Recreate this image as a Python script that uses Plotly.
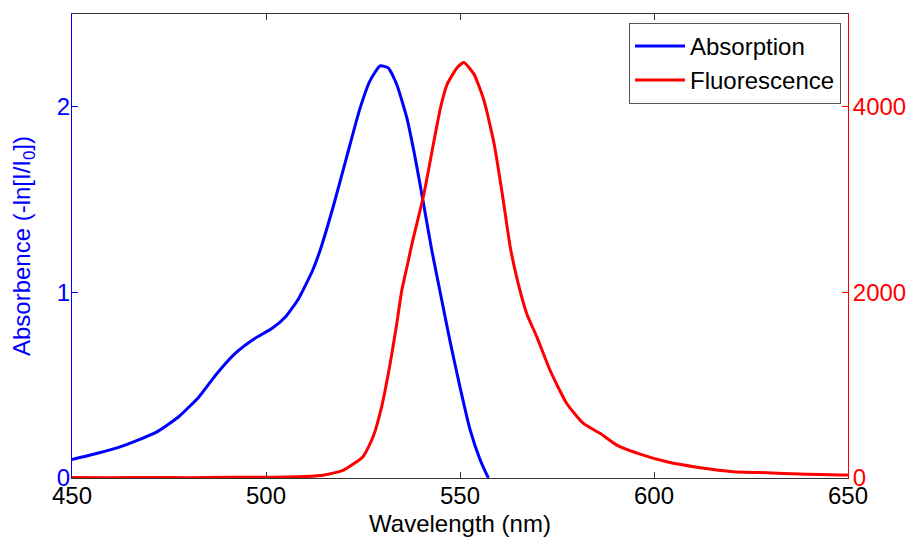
import plotly.graph_objects as go

# Absorption spectrum (left axis)
abs_wl = [450, 452, 455, 458.6, 462, 467, 472, 477.5, 482.7, 487, 492, 497, 501.5, 505,
          508.4, 512, 514, 517.3, 520.8, 524.2, 526.8, 529.4, 531.5, 533.7, 536.3, 538.4,
          540.5, 542.7, 544.8, 547.4, 550, 552.6, 555.2, 557.3]
abs_val = [0.10, 0.11, 0.125, 0.145, 0.165, 0.204, 0.25, 0.33, 0.437, 0.554, 0.67, 0.75, 0.805, 0.867,
           0.966, 1.118, 1.23, 1.46, 1.73, 1.99, 2.14, 2.22, 2.21, 2.12, 1.94, 1.73,
           1.49, 1.23, 1.01, 0.74, 0.49, 0.26, 0.097, 0.0]

# Fluorescence spectrum (right axis)
flu_wl = [450, 460, 470, 480, 490, 500, 505, 510, 515, 520, 525, 527.6, 529.8, 532, 533.7, 535,
          536.7, 537.6, 540.7, 543.3, 545, 546.7, 549.3, 551, 553.6, 556.2, 558.8, 560.9, 562.9,
          564.6, 567.2, 569.8, 573.2, 577.5, 581.8, 586.1, 590.4, 596.4, 603.3, 611.9, 620.5,
          629, 637.6, 649.7, 650]
flu_val = [5, 3, 6, 4, 8, 7, 10, 15, 32, 86, 229, 444, 767, 1233, 1663, 2022,
           2344, 2520, 3061, 3634, 3993, 4244, 4423, 4477, 4352, 4065, 3599, 3061, 2500,
           2165, 1771, 1520, 1161, 803, 588, 481, 355, 258, 175, 111, 68,
           57, 43, 32, 30]

x_ticks = [450, 500, 550, 600, 650]
y1_ticks = [0, 1, 2]
y2_ticks = [0, 2000, 4000]

FONT = "Liberation Sans, Arial, sans-serif"
BLUE = "rgb(0,0,255)"
RED = "rgb(255,0,0)"

fig = go.Figure()
fig.add_trace(go.Scatter(x=abs_wl, y=abs_val, mode="lines", name="Absorption",
                         line=dict(color=BLUE, width=3, shape="spline", smoothing=0.5),
                         yaxis="y"))
fig.add_trace(go.Scatter(x=flu_wl, y=flu_val, mode="lines", name="Fluorescence",
                         line=dict(color=RED, width=3, shape="spline", smoothing=0.5),
                         yaxis="y2"))

fig.update_layout(
    width=907, height=537,
    margin=dict(l=72, r=59, t=14, b=59),
    paper_bgcolor="white", plot_bgcolor="white",
    font=dict(family=FONT, size=24, color="black"),
    showlegend=True,
    legend=dict(x=0.991, y=0.981, xanchor="right", yanchor="top",
                bgcolor="white", bordercolor="#555555", borderwidth=1,
                font=dict(size=24, color="black"), itemwidth=50,
                tracegroupgap=0),
    xaxis=dict(range=[450, 650], tickvals=x_ticks, ticks="inside", ticklen=6,
               tickcolor="#333333", showline=True, linecolor="#333333", linewidth=1,
               mirror="ticks", showgrid=False, zeroline=False, automargin=False,
               tickfont=dict(size=24, color="black"), ticklabelstandoff=-4,
               title=dict(text="Wavelength (nm)", font=dict(size=24, color="black"), standoff=10)),
    yaxis=dict(range=[0, 2.5], tickvals=y1_ticks, ticks="inside", ticklen=6,
               tickcolor=BLUE, showline=True, linecolor=BLUE, linewidth=1,
               showgrid=False, zeroline=False, automargin=False,
               tickfont=dict(size=24, color=BLUE), ticklabelstandoff=-4,
               title=dict(text="Absorbence (-ln[I/I<sub>0</sub>])", font=dict(size=24, color=BLUE),
                          standoff=19)),
    yaxis2=dict(range=[0, 5000], tickvals=y2_ticks, ticks="inside", ticklen=6,
                tickcolor=RED, showline=True, linecolor=RED, linewidth=1,
                showgrid=False, zeroline=False, overlaying="y", side="right", automargin=False,
                tickfont=dict(size=24, color=RED), ticklabelstandoff=-1),
)

fig.write_html("out.html")
